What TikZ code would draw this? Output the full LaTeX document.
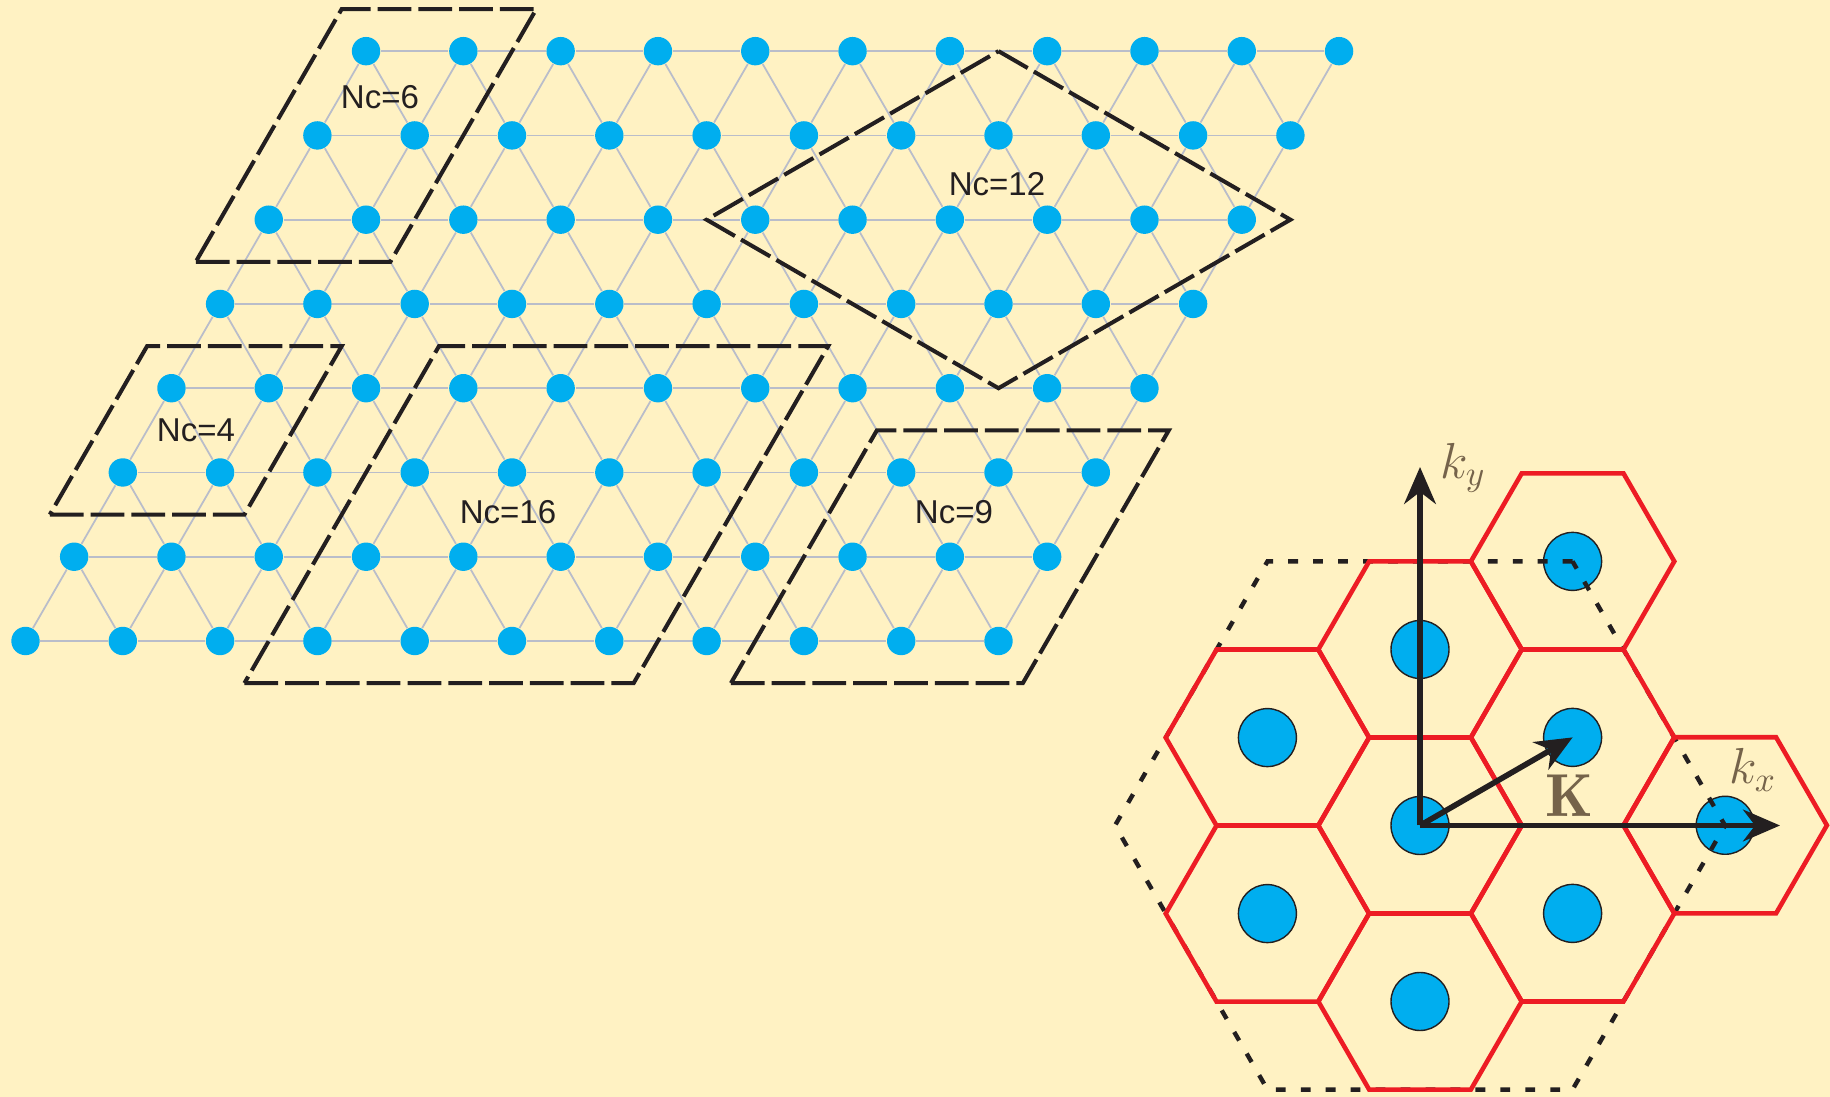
\documentclass[tikz,border=0pt]{standalone}
\usepackage{xcolor}
\usepackage{amsmath}
\usepackage{fontspec}
\usepackage{tikz}
\usetikzlibrary{shapes.geometric, arrows.meta}
\setsansfont{Liberation Sans}
\definecolor{mybg}{RGB}{255,242,195}
\definecolor{myblue}{RGB}{0,174,239}
\definecolor{myred}{RGB}{237,28,36}
\definecolor{mydark}{RGB}{35,31,32}
\definecolor{mybond}{RGB}{185,189,202}
\definecolor{mybrown}{RGB}{117,99,74}
\tikzset{
  latdot/.style={circle, fill=myblue, inner sep=0pt, minimum size=0.284cm},
  kdot/.style={circle, fill=myblue, draw=mydark, line width=0.4pt,
    inner sep=0pt, minimum size=0.58cm},
  bond/.style={color=mybond, line width=0.5pt},
  cellbox/.style={draw=mydark, line width=1.15pt, dash pattern=on 9.6pt off 2pt},
  celllabel/.style={font=\sffamily\fontsize{9.4}{11}\selectfont, text=mydark},
  bzone/.style={draw=myred, line width=1.3pt},
  bigzone/.style={regular polygon, regular polygon sides=6, minimum size=6.1cm,
    inner sep=0pt, draw=mydark, line width=1.25pt, dash pattern=on 2.8pt off 4.3pt},
  axis/.style={-{Stealth[length=10.5pt, width=9pt]}, line width=1.6pt, color=mydark},
  klabel/.style={text=mybrown, font=\fontsize{14.4}{17}\selectfont}
}

\begin{document}
\begin{tikzpicture}
  \fill[mybg] (0,0) rectangle (18.30,10.97);
  \useasboundingbox (0,0) rectangle (18.30,10.97);

  % real-space lattice
  \begin{scope}[shift={(0.255,4.56)}, x={(0.973cm,0cm)}, y={(0.4865cm,0.8426cm)}]
    \foreach \j in {0,...,7}
      \foreach \i in {0,...,10}
        \node[latdot] (p-\i-\j) at (\i,\j) {};

    \foreach \j in {0,...,7} {
      \foreach \i in {0,...,9} {
        \pgfmathtruncatemacro{\inext}{\i+1}
        \draw[bond] (p-\i-\j) -- (p-\inext-\j);
      }
    }
    \foreach \j in {0,...,6} {
      \pgfmathtruncatemacro{\jnext}{\j+1}
      \foreach \i in {0,...,10}
        \draw[bond] (p-\i-\j) -- (p-\i-\jnext);
      \foreach \i in {1,...,10} {
        \pgfmathtruncatemacro{\iprev}{\i-1}
        \draw[bond] (p-\i-\j) -- (p-\iprev-\jnext);
      }
    }

    % clusters
    \draw[cellbox] (-0.5,4.5) -- (1.5,4.5) -- (1.5,7.5) -- (-0.5,7.5) -- cycle;
    \draw[cellbox] (-0.5,1.5) -- (1.5,1.5) -- (1.5,3.5) -- (-0.5,3.5) -- cycle;
    \draw[cellbox] (2.5,-0.5) -- (6.5,-0.5) -- (6.5,3.5) -- (2.5,3.5) -- cycle;
    \draw[cellbox] (7.5,-0.5) -- (10.5,-0.5) -- (10.5,2.5) -- (7.5,2.5) -- cycle;
    \draw[cellbox] (6.5,7) -- (10.5,5) -- (8.5,3) -- (4.5,5) -- cycle;
  \end{scope}

  \node[celllabel] (nc6) at (3.80,10.00) {Nc=6};
  \node[celllabel] (nc12) at (9.97,9.13) {Nc=12};
  \node[celllabel] (nc4) at (1.96,6.67) {Nc=4};
  \node[celllabel] (nc16) at (5.08,5.85) {Nc=16};
  \node[celllabel] (nc9) at (9.54,5.85) {Nc=9};

  % reciprocal lattice
  \begin{scope}[shift={(14.20,2.715)}, x={(1.526cm,0.881cm)}, y={(0cm,1.76cm)}]
    \foreach \m/\n/\name in {0/0/0, 0/1/N, 1/0/NE, 1/1/NNE, 2/-1/E, -1/1/NW, -1/0/SW, 1/-1/SE, 0/-1/S}
      \node[kdot] (k\name) at (\m,\n) {};
  \end{scope}

  \node[bigzone] (zone) at (k0) {};

  \foreach \name in {0,N,NE,NNE,E,NW,SW,SE,S}
    \draw[bzone] (k\name.center) ++(1.017,0) -- ++(120:1.017) -- ++(180:1.017)
      -- ++(240:1.017) -- ++(300:1.017) -- ++(0:1.017) -- cycle;

  \coordinate (kytip) at (14.20,6.30);
  \coordinate (kxtip) at (17.80,2.715);
  \draw[axis] (k0.center) -- (kytip);
  \draw[axis] (k0.center) -- (kxtip);
  \draw[axis] (k0.center) -- (kNE.center);

  \node[klabel] (kylab) at (14.63,6.29) {$k_y$};
  \node[klabel] (kxlab) at (17.53,3.27) {$k_x$};
  \node[klabel, font=\fontsize{17.28}{20}\selectfont] (Klab) at (15.69,3.01) {$\mathbf{K}$};
\end{tikzpicture}
\end{document}
